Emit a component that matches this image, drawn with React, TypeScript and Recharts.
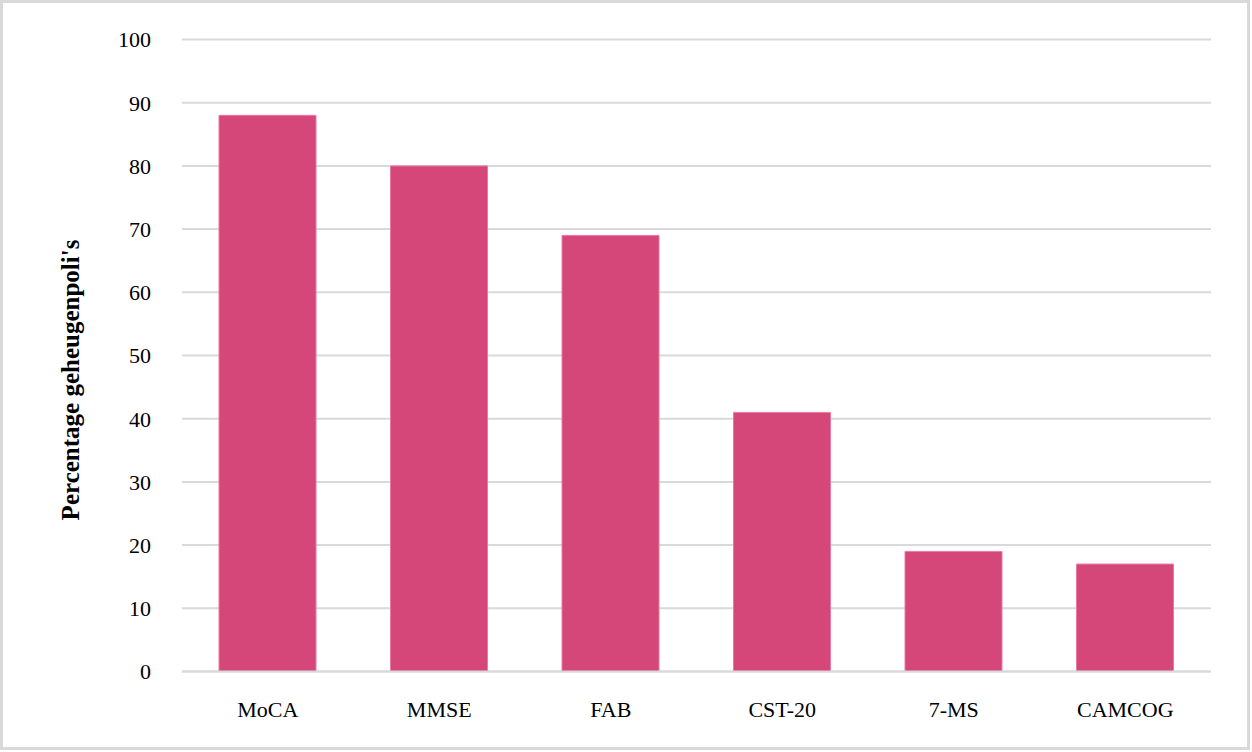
import React from 'react';
import { BarChart, Bar, XAxis, YAxis, CartesianGrid } from 'recharts';

const categories = ['MoCA', 'MMSE', 'FAB', 'CST-20', '7-MS', 'CAMCOG'];
const percentages = [88, 80, 69, 41, 19, 17];
const yTicks = [0, 10, 20, 30, 40, 50, 60, 70, 80, 90, 100];
const yLabel = "Percentage geheugenpoli's";

const data = categories.map((name, i) => ({ name, value: percentages[i] }));

const FONT = '"Liberation Serif", "DejaVu Serif", serif';

const AxisTitle = () => (
  <text
    x={67}
    y={377}
    transform="rotate(-90 67 377)"
    textAnchor="middle"
    dominantBaseline="central"
    fontFamily={FONT}
    fontSize={25}
    fontWeight="bold"
    fill="#000"
  >
    {yLabel}
  </text>
);

export default function App() {
  return (
    <div
      style={{
        position: 'absolute',
        left: 0,
        top: 0,
        width: 1250,
        height: 750,
        border: '3px solid #d9d9d9',
        boxSizing: 'border-box',
        background: '#fff',
      }}
    >
      <BarChart
        width={1244}
        height={744}
        data={data}
        margin={{ top: 36.5, right: 36, bottom: 45.5, left: 0 }}
      >
        <CartesianGrid vertical={false} stroke="#d9d9d9" strokeWidth={2} />
        <XAxis
          dataKey="name"
          height={30}
          axisLine={{ stroke: '#d9d9d9', strokeWidth: 2 }}
          tickLine={false}
          tickSize={6}
          tickMargin={24}
          tick={{ fill: '#000', fontFamily: FONT, fontSize: 22 }}
        />
        <YAxis
          width={179}
          domain={[0, 100]}
          ticks={yTicks}
          interval={0}
          axisLine={false}
          tickLine={false}
          tickSize={8}
          tickMargin={23}
          tick={{ fill: '#000', fontFamily: FONT, fontSize: 22 }}
          label={<AxisTitle />}
        />
        <Bar
          dataKey="value"
          fill="#D64779"
          barSize={97}
          stroke="#e97aa0"
          strokeWidth={1}
          isAnimationActive={false}
        />
      </BarChart>
    </div>
  );
}
